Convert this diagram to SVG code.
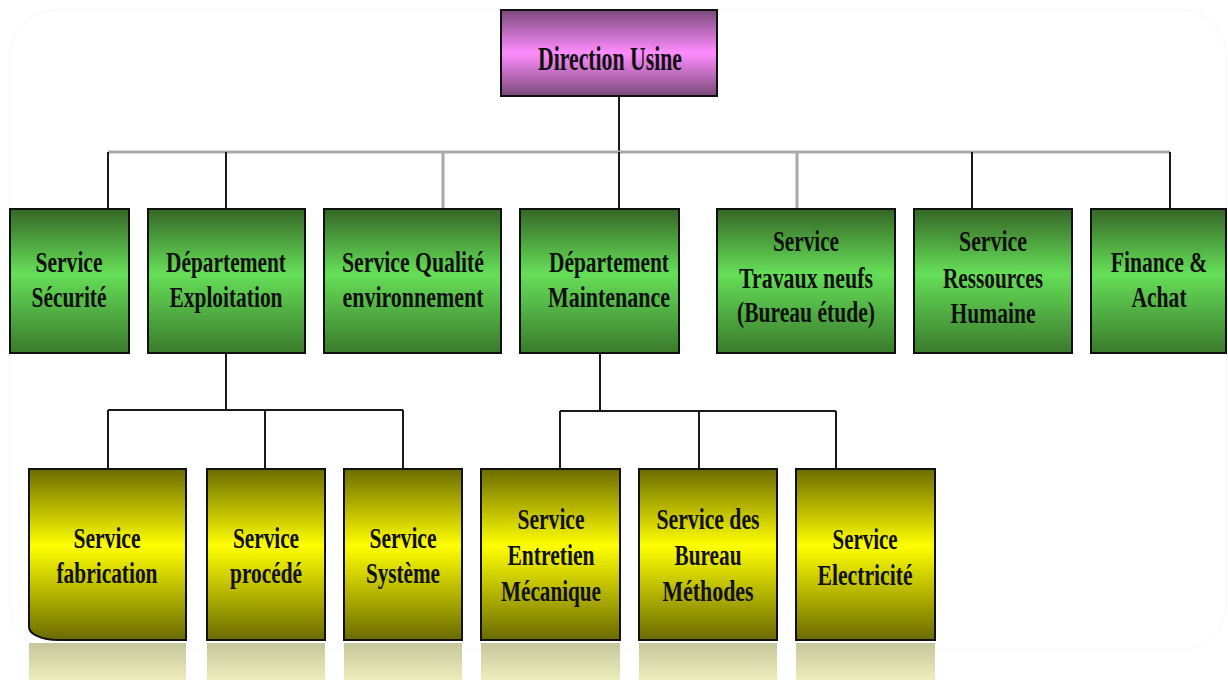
<svg xmlns="http://www.w3.org/2000/svg" width="1228" height="680" viewBox="0 0 1228 680">
<style>
.t{font-family:"Liberation Serif","Times New Roman",serif;font-weight:bold;font-size:30px;fill:#111;text-anchor:middle}
.tt{font-size:34px}
.box{stroke:#111;stroke-width:2}
.g{fill:url(#gGreen)}
.y{fill:url(#gYellow)}
.m{fill:url(#gMag)}
.ln{fill:none;stroke:#1a1a1a;stroke-width:2}
.lg{fill:none;stroke:#a9a9a9;stroke-width:3}
.refl{fill:url(#gRefl)}
</style>
<defs>
<linearGradient id="gGreen" x1="0" y1="0" x2="0" y2="1">
<stop offset="0" stop-color="#356626"/>
<stop offset="0.45" stop-color="#66df58"/>
<stop offset="1" stop-color="#3a7a2c"/>
</linearGradient>
<linearGradient id="gYellow" x1="0" y1="0" x2="0" y2="1">
<stop offset="0" stop-color="#6c6c00"/>
<stop offset="0.45" stop-color="#ffff00"/>
<stop offset="1" stop-color="#6a6a00"/>
</linearGradient>
<linearGradient id="gMag" x1="0" y1="0" x2="0" y2="1">
<stop offset="0" stop-color="#7a4a7a"/>
<stop offset="0.5" stop-color="#ff8cff"/>
<stop offset="1" stop-color="#7a4a7a"/>
</linearGradient>
<linearGradient id="gRefl" x1="0" y1="0" x2="0" y2="1">
<stop offset="0" stop-color="#c6c69c"/>
<stop offset="1" stop-color="#ececbc"/>
</linearGradient>
</defs>
<rect x="0" y="0" width="1228" height="680" fill="#fff"/>
<rect x="10" y="10" width="1216" height="640" rx="45" fill="none" stroke="#f7f7f7" stroke-width="1"/>

<g id="connectors">
<path class="ln" d="M619,96 V152"/>
<path class="lg" d="M108,152 H1170"/>
<path class="ln" d="M108,152 V209 M226,152 V209 M619,152 V209 M972,152 V209 M1170,152 V209"/>
<path class="lg" d="M443,153 V209 M797,153 V209"/>
<path class="ln" d="M226,353 V410 M108,410 H403 M108,410 V469 M265,410 V469 M403,410 V469"/>
<path class="ln" d="M600,353 V411 M560,411 H836 M560,411 V469 M699,411 V469 M836,411 V469"/>
</g>

<g id="reflections">
<rect class="refl" x="29" y="643" width="157" height="37"/>
<rect class="refl" x="207" y="643" width="118" height="37"/>
<rect class="refl" x="344" y="643" width="118" height="37"/>
<rect class="refl" x="481" y="643" width="139" height="37"/>
<rect class="refl" x="639" y="643" width="138" height="37"/>
<rect class="refl" x="796" y="643" width="139" height="37"/>
</g>

<g id="direction">
<rect class="box m" x="501" y="10" width="216" height="86"/>
<text class="t tt" x="610" y="70" textLength="144" lengthAdjust="spacingAndGlyphs">Direction Usine</text>
</g>

<g id="securite">
<rect class="box g" x="10" y="209" width="119" height="144"/>
<text class="t" x="69" y="272" textLength="67" lengthAdjust="spacingAndGlyphs">Service</text>
<text class="t" x="69" y="307" textLength="75" lengthAdjust="spacingAndGlyphs">Sécurité</text>
</g>
<g id="exploitation">
<rect class="box g" x="148" y="209" width="157" height="144"/>
<text class="t" x="226" y="272" textLength="120" lengthAdjust="spacingAndGlyphs">Département</text>
<text class="t" x="226" y="307" textLength="113" lengthAdjust="spacingAndGlyphs">Exploitation</text>
</g>
<g id="qualite">
<rect class="box g" x="324" y="209" width="177" height="144"/>
<text class="t" x="413" y="272" textLength="142" lengthAdjust="spacingAndGlyphs">Service Qualité</text>
<text class="t" x="413" y="307" textLength="141" lengthAdjust="spacingAndGlyphs">environnement</text>
</g>
<g id="maintenance">
<rect class="box g" x="520" y="209" width="159" height="144"/>
<text class="t" x="609" y="272" textLength="120" lengthAdjust="spacingAndGlyphs">Département</text>
<text class="t" x="609" y="307" textLength="122" lengthAdjust="spacingAndGlyphs">Maintenance</text>
</g>
<g id="travaux">
<rect class="box g" x="717" y="209" width="178" height="144"/>
<text class="t" x="806" y="251" textLength="66" lengthAdjust="spacingAndGlyphs">Service</text>
<text class="t" x="806" y="288" textLength="134" lengthAdjust="spacingAndGlyphs">Travaux neufs</text>
<text class="t" x="806" y="322" textLength="138" lengthAdjust="spacingAndGlyphs">(Bureau étude)</text>
</g>
<g id="rh">
<rect class="box g" x="914" y="209" width="158" height="144"/>
<text class="t" x="993" y="251" textLength="68" lengthAdjust="spacingAndGlyphs">Service</text>
<text class="t" x="993" y="288" textLength="100" lengthAdjust="spacingAndGlyphs">Ressources</text>
<text class="t" x="993" y="323" textLength="85" lengthAdjust="spacingAndGlyphs">Humaine</text>
</g>
<g id="finance">
<rect class="box g" x="1091" y="209" width="135" height="144"/>
<text class="t" transform="translate(1159,272) scale(0.72,1)">Finance &amp;</text>
<text class="t" transform="translate(1159,307) scale(0.72,1)">Achat</text>
</g>

<g id="fabrication">
<path class="box y" d="M29,469 H186 V640 H58 A29,13 0 0 1 29,627 Z"/>
<text class="t" x="107" y="548" textLength="67" lengthAdjust="spacingAndGlyphs">Service</text>
<text class="t" x="107" y="583" textLength="101" lengthAdjust="spacingAndGlyphs">fabrication</text>
</g>
<g id="procede">
<rect class="box y" x="207" y="469" width="118" height="171"/>
<text class="t" x="266" y="548" textLength="66" lengthAdjust="spacingAndGlyphs">Service</text>
<text class="t" x="266" y="583" textLength="72" lengthAdjust="spacingAndGlyphs">procédé</text>
</g>
<g id="systeme">
<rect class="box y" x="344" y="469" width="118" height="171"/>
<text class="t" x="403" y="548" textLength="67" lengthAdjust="spacingAndGlyphs">Service</text>
<text class="t" x="403" y="583" textLength="74" lengthAdjust="spacingAndGlyphs">Système</text>
</g>
<g id="entretien">
<rect class="box y" x="481" y="469" width="139" height="171"/>
<text class="t" x="551" y="529" textLength="67" lengthAdjust="spacingAndGlyphs">Service</text>
<text class="t" x="551" y="565" textLength="87" lengthAdjust="spacingAndGlyphs">Entretien</text>
<text class="t" x="551" y="601" textLength="100" lengthAdjust="spacingAndGlyphs">Mécanique</text>
</g>
<g id="methodes">
<rect class="box y" x="639" y="469" width="138" height="171"/>
<text class="t" x="708" y="529" textLength="103" lengthAdjust="spacingAndGlyphs">Service des</text>
<text class="t" x="708" y="565" textLength="67" lengthAdjust="spacingAndGlyphs">Bureau</text>
<text class="t" x="708" y="601" textLength="91" lengthAdjust="spacingAndGlyphs">Méthodes</text>
</g>
<g id="electricite">
<rect class="box y" x="796" y="469" width="139" height="171"/>
<text class="t" x="865" y="549" textLength="65" lengthAdjust="spacingAndGlyphs">Service</text>
<text class="t" x="865" y="585" textLength="95" lengthAdjust="spacingAndGlyphs">Electricité</text>
</g>
</svg>
